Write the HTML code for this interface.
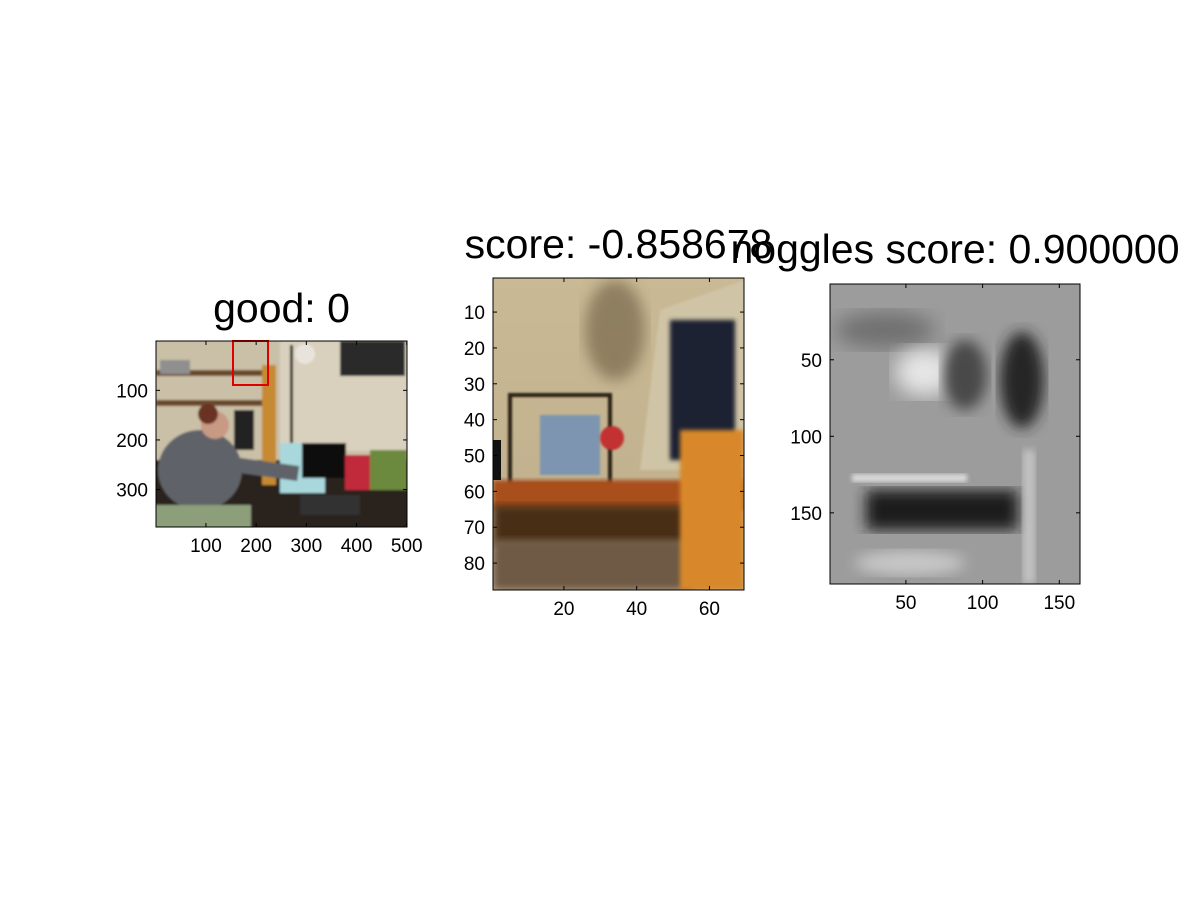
<!DOCTYPE html>
<html><head><meta charset="utf-8">
<style>
html,body{margin:0;padding:0;background:#fff;}
svg{display:block;font-family:"Liberation Sans",Arial,sans-serif;}
</style></head>
<body>
<svg id="fig" width="1200" height="900" viewBox="0 0 1200 900">
<defs>
  <filter id="b1"><feGaussianBlur stdDeviation="1"/></filter>
  <filter id="b2"><feGaussianBlur stdDeviation="2"/></filter>
  <filter id="b4"><feGaussianBlur stdDeviation="4"/></filter>
  <filter id="b7"><feGaussianBlur stdDeviation="7"/></filter>
  <filter id="b10"><feGaussianBlur stdDeviation="10"/></filter>
  <clipPath id="c1"><rect x="156" y="341" width="251" height="186"/></clipPath>
  <clipPath id="c2"><rect x="493" y="278" width="251" height="312"/></clipPath>
  <clipPath id="c3"><rect x="830" y="284" width="250" height="300"/></clipPath>
  <linearGradient id="wall2" x1="0" y1="0" x2="0" y2="1">
    <stop offset="0" stop-color="#c9b994"/><stop offset="1" stop-color="#bfae8c"/>
  </linearGradient>
</defs>

<!-- Subplot 1: photo -->
<g clip-path="url(#c1)">
 <g filter="url(#b1)">
  <rect x="150" y="335" width="265" height="200" fill="#b8ac92"/>
  <rect x="156" y="341" width="251" height="186" fill="#d6cdb6" opacity="0.6"/>
  <rect x="280" y="341" width="127" height="110" fill="#d9d0bd"/>
  <rect x="150" y="460" width="265" height="70" fill="#2c211b"/>
  <rect x="156" y="370" width="120" height="6" fill="#6b4a2a"/>
  <rect x="156" y="400" width="120" height="6" fill="#6b4a2a"/>
  <rect x="262" y="365" width="14" height="120" fill="#c68a30"/>
  <rect x="160" y="360" width="30" height="14" fill="#8f8f8f"/>
  <rect x="340" y="341" width="65" height="35" fill="#2a2a2a"/>
  <circle cx="305" cy="354" r="10" fill="#e8e4dc"/>
  <rect x="290" y="345" width="3" height="100" fill="#111"/>
  <rect x="234" y="410" width="20" height="40" fill="#222"/>
  <rect x="280" y="443" width="45" height="50" fill="#a8d8dc"/>
  <rect x="302" y="443" width="44" height="35" fill="#111"/>
  <rect x="345" y="455" width="25" height="35" fill="#c02a3a"/>
  <rect x="370" y="450" width="37" height="40" fill="#6c8a3c"/>
  <rect x="300" y="495" width="60" height="20" fill="#333"/>
  <ellipse cx="200" cy="470" rx="42" ry="40" fill="#5e6469"/>
  <rect x="220" y="455" width="80" height="15" fill="#5e6469" transform="rotate(8 220 455)"/>
  <circle cx="215" cy="425" r="14" fill="#c89a84"/>
  <circle cx="208" cy="414" r="10" fill="#6a3322"/>
  <rect x="150" y="505" width="101" height="25" fill="#8c9e7a"/>
 </g>
</g>
<rect x="233" y="341" width="35" height="44" fill="none" stroke="#e00000" stroke-width="2"/>

<!-- Subplot 2: crop -->
<g clip-path="url(#c2)">
  <rect x="493" y="278" width="251" height="312" fill="url(#wall2)"/>
  <ellipse cx="615" cy="330" rx="30" ry="50" fill="#6b5a40" opacity="0.6" filter="url(#b7)"/>
  <polygon points="660,310 744,280 744,470 640,470" fill="#cfc4a6" filter="url(#b1)"/>
  <rect x="670" y="320" width="65" height="140" fill="#1e2030" filter="url(#b2)"/>
  <rect x="510" y="395" width="100" height="90" fill="none" stroke="#2a2418" stroke-width="4" filter="url(#b1)"/>
  <rect x="540" y="415" width="60" height="60" fill="#7d95b0" filter="url(#b1)"/>
  <circle cx="612" cy="438" r="12" fill="#c23030" filter="url(#b1)"/>
  <rect x="493" y="480" width="251" height="30" fill="#a9501e" filter="url(#b2)"/>
  <rect x="493" y="505" width="200" height="40" fill="#4a2e18" filter="url(#b4)"/>
  <rect x="493" y="540" width="200" height="50" fill="#6e5a44" filter="url(#b4)"/>
  <rect x="680" y="430" width="64" height="160" fill="#d8882a" filter="url(#b2)"/>
  <rect x="493" y="440" width="8" height="40" fill="#111"/>
</g>

<!-- Subplot 3: grayscale -->
<g clip-path="url(#c3)">
  <rect x="830" y="284" width="250" height="300" fill="#9c9c9c"/>
  <ellipse cx="885" cy="330" rx="50" ry="18" fill="#707070" filter="url(#b10)"/>
  <ellipse cx="925" cy="372" rx="30" ry="24" fill="#e6e6e6" filter="url(#b10)"/>
  <ellipse cx="965" cy="375" rx="22" ry="35" fill="#4a4a4a" filter="url(#b7)"/>
  <ellipse cx="1022" cy="380" rx="22" ry="48" fill="#262626" filter="url(#b7)"/>
  <rect x="852" y="474" width="115" height="8" fill="#d8d8d8" filter="url(#b2)"/>
  <rect x="866" y="490" width="152" height="40" fill="#1a1a1a" filter="url(#b7)"/>
  <rect x="1023" y="450" width="12" height="134" fill="#c4c4c4" filter="url(#b4)"/>
  <ellipse cx="910" cy="563" rx="55" ry="12" fill="#c8c8c8" filter="url(#b7)"/>
</g>

<g id="axes"></g>
</svg>

<script>
// Axis data
const ax1XTicks = [100, 200, 300, 400, 500];
const ax1YTicks = [100, 200, 300];
const ax1XRange = [0.5, 500.5];
const ax1YRange = [0.5, 375.5];
const ax2XTicks = [20, 40, 60];
const ax2YTicks = [10, 20, 30, 40, 50, 60, 70, 80];
const ax2XRange = [0.5, 69.5];
const ax2YRange = [0.5, 87.5];
const ax3XTicks = [50, 100, 150];
const ax3YTicks = [50, 100, 150];
const ax3XRange = [0.5, 163.5];
const ax3YRange = [0.5, 196.5];
const titles = ["good: 0", "score: -0.858678", "noggles score: 0.900000"];

const NS = "http://www.w3.org/2000/svg";
const layer = document.getElementById('axes');

function mk(tag, attrs, parent) {
  const e = document.createElementNS(NS, tag);
  for (const k in attrs) e.setAttribute(k, attrs[k]);
  (parent || layer).appendChild(e);
  return e;
}

function drawAxes(idx, box, xr, yr, xt, yt, title, titleY) {
  const [x0, y0, w, h] = box;
  const sx = v => x0 + (v - xr[0]) / (xr[1] - xr[0]) * w;
  const sy = v => y0 + (v - yr[0]) / (yr[1] - yr[0]) * h;
  const g = mk('g', {});
  
  
  const r = mk('rect', {x: x0, y: y0, width: w, height: h, fill: 'none', stroke: '#000', 'stroke-width': 1}, g);
  
  
  xt.forEach(v => {
    const x = sx(v);
    const t1 = mk('line', {x1: x, x2: x, y1: y0 + h, y2: y0 + h - 4, stroke: '#000'}, g);
    
    
    mk('line', {x1: x, x2: x, y1: y0, y2: y0 + 4, stroke: '#000'}, g);
    const tx = mk('text', {x: x, y: y0 + h + 25, 'font-size': 19, 'text-anchor': 'middle', fill: '#000'}, g);
    
    
    tx.textContent = v;
  });
  yt.forEach(v => {
    const y = sy(v);
    const t1 = mk('line', {x1: x0, x2: x0 + 4, y1: y, y2: y, stroke: '#000'}, g);
    
    
    mk('line', {x1: x0 + w, x2: x0 + w - 4, y1: y, y2: y, stroke: '#000'}, g);
    const ty = mk('text', {x: x0 - 8, y: y + 7, 'font-size': 19, 'text-anchor': 'end', fill: '#000'}, g);
    
    
    ty.textContent = v;
  });
  const tt = mk('text', {x: x0 + w / 2, y: titleY, 'font-size': 41, 'text-anchor': 'middle', fill: '#000'}, g);
  
  
  tt.textContent = title;
}

drawAxes(1, [156, 341, 251, 186], ax1XRange, ax1YRange, ax1XTicks, ax1YTicks, titles[0], 322);
drawAxes(2, [493, 278, 251, 312], ax2XRange, ax2YRange, ax2XTicks, ax2YTicks, titles[1], 258);
drawAxes(3, [830, 284, 250, 300], ax3XRange, ax3YRange, ax3XTicks, ax3YTicks, titles[2], 263);
</script>
</body></html>
